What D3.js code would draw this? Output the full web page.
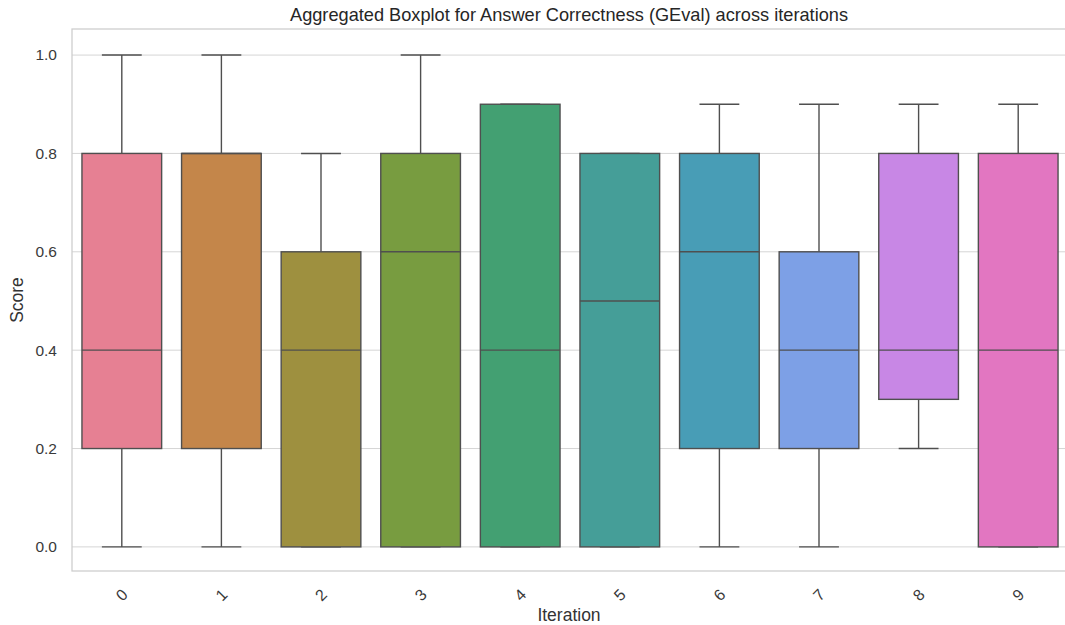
<!DOCTYPE html>
<html><head><meta charset="utf-8">
<script src="https://cdn.jsdelivr.net/npm/d3@7"></script>
<style>body{margin:0;background:#fff;}svg{display:block;font-family:"Liberation Sans",Arial,sans-serif;}</style>
</head><body><svg id="c" width="1065" height="625"></svg>
<script>
const iterations = ["0","1","2","3","4","5","6","7","8","9"];
const whiskerLow  = [0.0, 0.0, 0.0, 0.0, 0.0, 0.0, 0.0, 0.0, 0.2, 0.0];
const q1          = [0.2, 0.2, 0.0, 0.0, 0.0, 0.0, 0.2, 0.2, 0.3, 0.0];
const medians     = [0.4, 0.8, 0.4, 0.6, 0.4, 0.5, 0.6, 0.4, 0.4, 0.4];
const q3          = [0.8, 0.8, 0.6, 0.8, 0.9, 0.8, 0.8, 0.6, 0.8, 0.8];
const whiskerHigh = [1.0, 1.0, 0.8, 1.0, 0.9, 0.8, 0.9, 0.9, 0.9, 0.9];
const colors = ["#e68093","#c4864a","#9e903f","#789c40","#43a072","#459e98","#489db6","#7da0e6","#c887e5","#e276c1"];
const yTicks = [0.0, 0.2, 0.4, 0.6, 0.8, 1.0];

const svg = d3.select("#c");
const m = {left:72, right:1068, top:29, bottom:571};
const x = d3.scaleBand().domain(iterations).range([m.left, m.right]).paddingInner(0).paddingOuter(0);
const y = d3.scaleLinear().domain([-0.049, 1.053]).range([m.bottom, m.top]);
const lineCol = "#4f4f4f";

// grid
svg.append("g").selectAll("line").data(yTicks).join("line")
  .attr("x1", m.left).attr("x2", m.right)
  .attr("y1", d=>y(d)).attr("y2", d=>y(d))
  .attr("stroke", "#d5d5d5").attr("stroke-width", 1);

// spines
svg.append("rect").attr("x", m.left).attr("y", m.top)
  .attr("width", m.right - m.left + 5).attr("height", m.bottom - m.top)
  .attr("fill", "none").attr("stroke", "#cccccc").attr("stroke-width", 1.25);

const data = iterations.map((k,i)=>({k, lo:whiskerLow[i], q1:q1[i], med:medians[i], q3:q3[i], hi:whiskerHigh[i], c:colors[i]}));
const bw = x.bandwidth()*0.8;
const g = svg.append("g").selectAll("g").data(data).join("g");
const cx = d => x(d.k) + x.bandwidth()/2;
// whiskers
g.append("line").attr("x1",cx).attr("x2",cx).attr("y1",d=>y(d.q3)).attr("y2",d=>y(d.hi)).attr("stroke",lineCol).attr("stroke-width",1.4);
g.append("line").attr("x1",cx).attr("x2",cx).attr("y1",d=>y(d.q1)).attr("y2",d=>y(d.lo)).attr("stroke",lineCol).attr("stroke-width",1.4);
// caps
g.append("line").attr("x1",d=>cx(d)-bw/4).attr("x2",d=>cx(d)+bw/4).attr("y1",d=>y(d.hi)).attr("y2",d=>y(d.hi)).attr("stroke",lineCol).attr("stroke-width",1.4);
g.append("line").attr("x1",d=>cx(d)-bw/4).attr("x2",d=>cx(d)+bw/4).attr("y1",d=>y(d.lo)).attr("y2",d=>y(d.lo)).attr("stroke",lineCol).attr("stroke-width",1.4);
// boxes
g.append("rect").attr("x",d=>cx(d)-bw/2).attr("width",bw)
  .attr("y",d=>y(d.q3)).attr("height",d=>y(d.q1)-y(d.q3))
  .attr("fill",d=>d.c).attr("stroke",lineCol).attr("stroke-width",1.4);
// medians
g.append("line").attr("x1",d=>cx(d)-bw/2).attr("x2",d=>cx(d)+bw/2).attr("y1",d=>y(d.med)).attr("y2",d=>y(d.med)).attr("stroke",lineCol).attr("stroke-width",1.4);

// y axis labels
svg.append("g").selectAll("text").data(yTicks).join("text")
  .attr("x", 57).attr("y", d=>y(d)).attr("dy","0.35em")
  .attr("text-anchor","end").attr("font-size",15.5).attr("fill","#3a3a3a")
  .text(d=>d3.format(".1f")(d));

// x axis labels rotated
svg.append("g").selectAll("text").data(iterations).join("text")
  .attr("transform", d=>`translate(${x(d)+x.bandwidth()/2},${595}) rotate(-45)`)
  .attr("text-anchor","middle").attr("dy","0.35em").attr("font-size",16).attr("fill","#3a3a3a")
  .text(d=>d);

svg.append("text").attr("x",569).attr("y",621).attr("text-anchor","middle")
  .attr("font-size",17.5).attr("fill","#333").text("Iteration");
svg.append("text").attr("transform",`translate(23,${(m.top+m.bottom)/2}) rotate(-90)`).attr("text-anchor","middle")
  .attr("font-size",17.5).attr("fill","#333").text("Score");
svg.append("text").attr("x",569).attr("y",21).attr("text-anchor","middle")
  .attr("font-size",18.2).attr("fill","#262626").text("Aggregated Boxplot for Answer Correctness (GEval) across iterations");
</script></body></html>
